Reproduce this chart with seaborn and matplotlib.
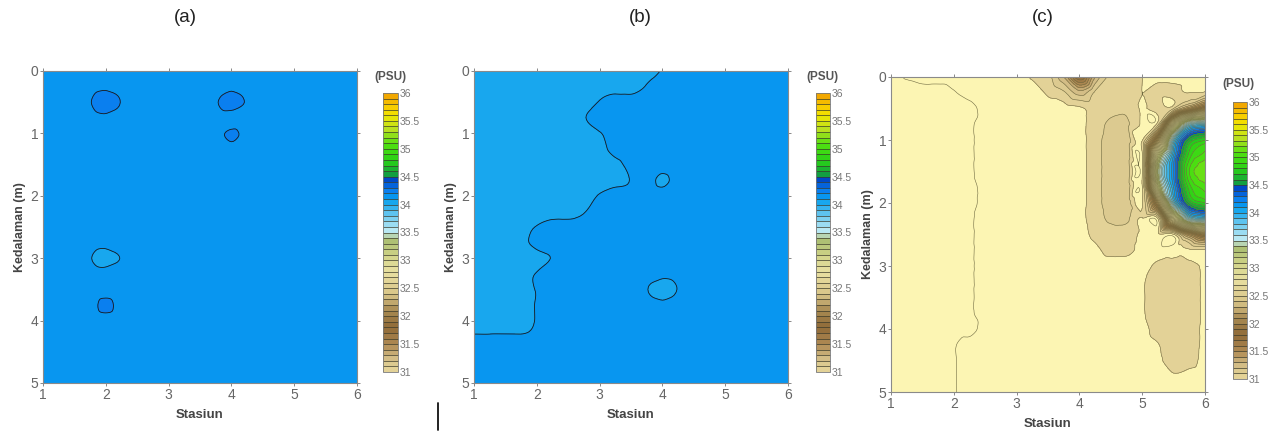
import numpy as np
import matplotlib
matplotlib.use('Agg')
import matplotlib.pyplot as plt
import seaborn as sns
from matplotlib.colors import ListedColormap, BoundaryNorm, LinearSegmentedColormap
from matplotlib.tri import Triangulation, UniformTriRefiner, CubicTriInterpolator
from matplotlib.lines import Line2D

# grid (station x depth), salinity in PSU
stations = [1.0, 1.25, 1.5, 1.75, 2.0, 2.25, 2.5, 2.75, 3.0, 3.25, 3.5,
            3.75, 4.0, 4.25, 4.5, 4.75, 5.0, 5.25, 5.5, 5.75, 6.0]
depths = [0.0, 0.25, 0.5, 0.75, 1.0, 1.25, 1.5, 1.75, 2.0, 2.25, 2.5,
          2.75, 3.0, 3.25, 3.5, 3.75, 4.0, 4.25, 4.5, 4.75, 5.0]

# (a)
sal_a = [
    [34.15, 34.15, 34.15, 34.15, 34.15, 34.15, 34.15, 34.15, 34.15, 34.15, 34.15, 34.15, 34.15, 34.15, 34.15, 34.15, 34.15, 34.15, 34.15, 34.15, 34.15],
    [34.15, 34.15, 34.15, 34.15, 34.16, 34.15, 34.15, 34.15, 34.15, 34.15, 34.15, 34.15, 34.15, 34.15, 34.15, 34.15, 34.15, 34.15, 34.15, 34.15, 34.15],
    [34.15, 34.15, 34.15, 34.19, 34.28, 34.19, 34.15, 34.15, 34.15, 34.15, 34.15, 34.18, 34.26, 34.18, 34.15, 34.15, 34.15, 34.15, 34.15, 34.15, 34.15],
    [34.15, 34.15, 34.15, 34.15, 34.16, 34.15, 34.15, 34.15, 34.15, 34.15, 34.15, 34.15, 34.15, 34.15, 34.15, 34.15, 34.15, 34.15, 34.15, 34.15, 34.15],
    [34.15, 34.15, 34.15, 34.15, 34.15, 34.15, 34.15, 34.15, 34.15, 34.15, 34.15, 34.15, 34.22, 34.15, 34.15, 34.15, 34.15, 34.15, 34.15, 34.15, 34.15],
    [34.15, 34.15, 34.15, 34.15, 34.15, 34.15, 34.15, 34.15, 34.15, 34.15, 34.15, 34.15, 34.15, 34.15, 34.15, 34.15, 34.15, 34.15, 34.15, 34.15, 34.15],
    [34.15, 34.15, 34.15, 34.15, 34.15, 34.15, 34.15, 34.15, 34.15, 34.15, 34.15, 34.15, 34.15, 34.15, 34.15, 34.15, 34.15, 34.15, 34.15, 34.15, 34.15],
    [34.15, 34.15, 34.15, 34.15, 34.15, 34.15, 34.15, 34.15, 34.15, 34.15, 34.15, 34.15, 34.15, 34.15, 34.15, 34.15, 34.15, 34.15, 34.15, 34.15, 34.15],
    [34.15, 34.15, 34.15, 34.15, 34.15, 34.15, 34.15, 34.15, 34.15, 34.15, 34.15, 34.15, 34.15, 34.15, 34.15, 34.15, 34.15, 34.15, 34.15, 34.15, 34.15],
    [34.15, 34.15, 34.15, 34.15, 34.15, 34.15, 34.15, 34.15, 34.15, 34.15, 34.15, 34.15, 34.15, 34.15, 34.15, 34.15, 34.15, 34.15, 34.15, 34.15, 34.15],
    [34.15, 34.15, 34.15, 34.15, 34.15, 34.15, 34.15, 34.15, 34.15, 34.15, 34.15, 34.15, 34.15, 34.15, 34.15, 34.15, 34.15, 34.15, 34.15, 34.15, 34.15],
    [34.15, 34.15, 34.15, 34.15, 34.15, 34.15, 34.15, 34.15, 34.15, 34.15, 34.15, 34.15, 34.15, 34.15, 34.15, 34.15, 34.15, 34.15, 34.15, 34.15, 34.15],
    [34.15, 34.15, 34.15, 34.11, 34.05, 34.11, 34.15, 34.15, 34.15, 34.15, 34.15, 34.15, 34.15, 34.15, 34.15, 34.15, 34.15, 34.15, 34.15, 34.15, 34.15],
    [34.15, 34.15, 34.15, 34.15, 34.15, 34.15, 34.15, 34.15, 34.15, 34.15, 34.15, 34.15, 34.15, 34.15, 34.15, 34.15, 34.15, 34.15, 34.15, 34.15, 34.15],
    [34.15, 34.15, 34.15, 34.15, 34.15, 34.15, 34.15, 34.15, 34.15, 34.15, 34.15, 34.15, 34.15, 34.15, 34.15, 34.15, 34.15, 34.15, 34.15, 34.15, 34.15],
    [34.15, 34.15, 34.15, 34.15, 34.23, 34.15, 34.15, 34.15, 34.15, 34.15, 34.15, 34.15, 34.15, 34.15, 34.15, 34.15, 34.15, 34.15, 34.15, 34.15, 34.15],
    [34.15, 34.15, 34.15, 34.15, 34.15, 34.15, 34.15, 34.15, 34.15, 34.15, 34.15, 34.15, 34.15, 34.15, 34.15, 34.15, 34.15, 34.15, 34.15, 34.15, 34.15],
    [34.15, 34.15, 34.15, 34.15, 34.15, 34.15, 34.15, 34.15, 34.15, 34.15, 34.15, 34.15, 34.15, 34.15, 34.15, 34.15, 34.15, 34.15, 34.15, 34.15, 34.15],
    [34.15, 34.15, 34.15, 34.15, 34.15, 34.15, 34.15, 34.15, 34.15, 34.15, 34.15, 34.15, 34.15, 34.15, 34.15, 34.15, 34.15, 34.15, 34.15, 34.15, 34.15],
    [34.15, 34.15, 34.15, 34.15, 34.15, 34.15, 34.15, 34.15, 34.15, 34.15, 34.15, 34.15, 34.15, 34.15, 34.15, 34.15, 34.15, 34.15, 34.15, 34.15, 34.15],
    [34.15, 34.15, 34.15, 34.15, 34.15, 34.15, 34.15, 34.15, 34.15, 34.15, 34.15, 34.15, 34.15, 34.15, 34.15, 34.15, 34.15, 34.15, 34.15, 34.15, 34.15],
]

# (b)
sal_b = [
    [34.05, 34.05, 34.05, 34.05, 34.05, 34.05, 34.05, 34.05, 34.05, 34.05, 34.05, 34.05, 34.11, 34.15, 34.15, 34.15, 34.15, 34.15, 34.15, 34.15, 34.15],
    [34.05, 34.05, 34.05, 34.05, 34.05, 34.05, 34.05, 34.05, 34.05, 34.05, 34.05, 34.11, 34.15, 34.15, 34.15, 34.15, 34.15, 34.15, 34.15, 34.15, 34.15],
    [34.05, 34.05, 34.05, 34.05, 34.05, 34.05, 34.05, 34.05, 34.11, 34.15, 34.15, 34.15, 34.15, 34.15, 34.15, 34.15, 34.15, 34.15, 34.15, 34.15, 34.15],
    [34.05, 34.05, 34.05, 34.05, 34.05, 34.05, 34.05, 34.09, 34.15, 34.15, 34.15, 34.15, 34.15, 34.15, 34.15, 34.15, 34.15, 34.15, 34.15, 34.15, 34.15],
    [34.05, 34.05, 34.05, 34.05, 34.05, 34.05, 34.05, 34.05, 34.09, 34.15, 34.15, 34.15, 34.15, 34.15, 34.15, 34.15, 34.15, 34.15, 34.15, 34.15, 34.15],
    [34.05, 34.05, 34.05, 34.05, 34.05, 34.05, 34.05, 34.05, 34.05, 34.15, 34.15, 34.15, 34.15, 34.15, 34.15, 34.15, 34.15, 34.15, 34.15, 34.15, 34.15],
    [34.05, 34.05, 34.05, 34.05, 34.05, 34.05, 34.05, 34.05, 34.05, 34.05, 34.15, 34.15, 34.15, 34.15, 34.15, 34.15, 34.15, 34.15, 34.15, 34.15, 34.15],
    [34.05, 34.05, 34.05, 34.05, 34.05, 34.05, 34.05, 34.05, 34.05, 34.05, 34.11, 34.15, 34.08, 34.15, 34.15, 34.15, 34.15, 34.15, 34.15, 34.15, 34.15],
    [34.05, 34.05, 34.05, 34.05, 34.05, 34.05, 34.05, 34.05, 34.11, 34.15, 34.15, 34.15, 34.15, 34.15, 34.15, 34.15, 34.15, 34.15, 34.15, 34.15, 34.15],
    [34.05, 34.05, 34.05, 34.05, 34.05, 34.05, 34.05, 34.09, 34.15, 34.15, 34.15, 34.15, 34.15, 34.15, 34.15, 34.15, 34.15, 34.15, 34.15, 34.15, 34.15],
    [34.05, 34.05, 34.05, 34.05, 34.11, 34.15, 34.15, 34.15, 34.15, 34.15, 34.15, 34.15, 34.15, 34.15, 34.15, 34.15, 34.15, 34.15, 34.15, 34.15, 34.15],
    [34.05, 34.05, 34.05, 34.05, 34.15, 34.15, 34.15, 34.15, 34.15, 34.15, 34.15, 34.15, 34.15, 34.15, 34.15, 34.15, 34.15, 34.15, 34.15, 34.15, 34.15],
    [34.05, 34.05, 34.05, 34.05, 34.05, 34.11, 34.15, 34.15, 34.15, 34.15, 34.15, 34.15, 34.15, 34.15, 34.15, 34.15, 34.15, 34.15, 34.15, 34.15, 34.15],
    [34.05, 34.05, 34.05, 34.05, 34.11, 34.15, 34.15, 34.15, 34.15, 34.15, 34.15, 34.15, 34.15, 34.15, 34.15, 34.15, 34.15, 34.15, 34.15, 34.15, 34.15],
    [34.05, 34.05, 34.05, 34.05, 34.11, 34.15, 34.15, 34.15, 34.15, 34.15, 34.15, 34.11, 34.025, 34.11, 34.15, 34.15, 34.15, 34.15, 34.15, 34.15, 34.15],
    [34.05, 34.05, 34.05, 34.05, 34.11, 34.15, 34.15, 34.15, 34.15, 34.15, 34.15, 34.15, 34.15, 34.15, 34.15, 34.15, 34.15, 34.15, 34.15, 34.15, 34.15],
    [34.05, 34.05, 34.05, 34.05, 34.11, 34.15, 34.15, 34.15, 34.15, 34.15, 34.15, 34.15, 34.15, 34.15, 34.15, 34.15, 34.15, 34.15, 34.15, 34.15, 34.15],
    [34.11, 34.11, 34.11, 34.11, 34.12, 34.15, 34.15, 34.15, 34.15, 34.15, 34.15, 34.15, 34.15, 34.15, 34.15, 34.15, 34.15, 34.15, 34.15, 34.15, 34.15],
    [34.15, 34.15, 34.15, 34.15, 34.13, 34.15, 34.15, 34.15, 34.15, 34.15, 34.15, 34.15, 34.15, 34.15, 34.15, 34.15, 34.15, 34.15, 34.15, 34.15, 34.15],
    [34.15, 34.15, 34.15, 34.15, 34.13, 34.15, 34.15, 34.15, 34.15, 34.15, 34.15, 34.15, 34.15, 34.15, 34.15, 34.15, 34.15, 34.15, 34.15, 34.15, 34.15],
    [34.15, 34.15, 34.15, 34.15, 34.15, 34.15, 34.15, 34.15, 34.15, 34.15, 34.15, 34.15, 34.15, 34.15, 34.15, 34.15, 34.15, 34.15, 34.15, 34.15, 34.15],
]

# (c)
sal_c = [
    [30.85, 30.91, 30.95, 30.95, 30.95, 30.95, 30.95, 30.95, 30.95, 31.01, 31.06, 31.30, 31.80, 31.30, 31.07, 31.04, 31.00, 30.97, 30.96, 30.95, 30.97],
    [30.85, 30.85, 30.85, 30.85, 30.89, 30.95, 30.95, 30.95, 30.95, 30.95, 31.02, 31.08, 31.25, 31.08, 31.05, 31.05, 31.00, 31.05, 31.05, 31.00, 31.02],
    [30.85, 30.85, 30.85, 30.85, 30.85, 30.85, 30.95, 30.95, 30.95, 30.95, 30.95, 30.96, 30.98, 31.04, 31.07, 31.08, 30.99, 31.06, 31.10, 31.50, 31.90],
    [30.85, 30.85, 30.85, 30.85, 30.85, 30.88, 30.95, 30.95, 30.95, 30.95, 30.95, 30.95, 30.97, 31.05, 31.12, 31.12, 30.99, 31.06, 32.60, 33.70, 33.90],
    [30.85, 30.85, 30.85, 30.85, 30.85, 30.88, 30.95, 30.95, 30.95, 30.95, 30.95, 30.95, 30.97, 31.05, 31.16, 31.16, 30.99, 32.00, 33.80, 34.60, 34.80],
    [30.85, 30.85, 30.85, 30.85, 30.85, 30.88, 30.95, 30.95, 30.95, 30.95, 30.95, 30.95, 30.97, 31.05, 31.16, 31.16, 30.99, 33.00, 34.10, 34.85, 35.05],
    [30.85, 30.85, 30.85, 30.85, 30.85, 30.88, 30.95, 30.95, 30.95, 30.95, 30.95, 30.95, 30.97, 31.05, 31.16, 31.16, 30.99, 33.30, 34.20, 35.00, 35.20],
    [30.85, 30.85, 30.85, 30.85, 30.85, 30.85, 30.95, 30.95, 30.95, 30.95, 30.95, 30.95, 30.97, 31.05, 31.16, 31.16, 30.99, 33.00, 34.10, 34.85, 35.05],
    [30.85, 30.85, 30.85, 30.85, 30.85, 30.85, 30.95, 30.95, 30.95, 30.95, 30.95, 30.95, 30.97, 31.05, 31.16, 31.16, 30.99, 32.00, 33.80, 34.60, 34.80],
    [30.85, 30.85, 30.85, 30.85, 30.85, 30.88, 30.95, 30.95, 30.95, 30.95, 30.95, 30.95, 30.97, 31.05, 31.12, 31.12, 30.99, 30.99, 32.60, 33.70, 33.90],
    [30.85, 30.85, 30.85, 30.85, 30.85, 30.88, 30.95, 30.95, 30.95, 30.95, 30.95, 30.95, 30.97, 31.02, 31.05, 31.05, 30.98, 30.97, 30.98, 31.50, 31.90],
    [30.85, 30.85, 30.85, 30.85, 30.85, 30.88, 30.95, 30.95, 30.95, 30.95, 30.95, 30.95, 30.96, 30.98, 31.03, 31.03, 30.97, 30.96, 30.97, 30.98, 30.97],
    [30.85, 30.85, 30.85, 30.85, 30.85, 30.88, 30.95, 30.95, 30.95, 30.95, 30.95, 30.95, 30.95, 30.95, 30.95, 30.95, 30.97, 31.02, 31.05, 31.05, 30.97],
    [30.85, 30.85, 30.85, 30.85, 30.85, 30.88, 30.95, 30.95, 30.95, 30.95, 30.95, 30.95, 30.95, 30.95, 30.95, 30.95, 30.99, 31.05, 31.06, 31.06, 30.97],
    [30.85, 30.85, 30.85, 30.85, 30.85, 30.88, 30.95, 30.95, 30.95, 30.95, 30.95, 30.95, 30.95, 30.95, 30.95, 30.95, 30.99, 31.05, 31.06, 31.06, 30.97],
    [30.85, 30.85, 30.85, 30.85, 30.85, 30.88, 30.95, 30.95, 30.95, 30.95, 30.95, 30.95, 30.95, 30.95, 30.95, 30.95, 30.99, 31.05, 31.06, 31.06, 30.97],
    [30.85, 30.85, 30.85, 30.85, 30.85, 30.85, 30.95, 30.95, 30.95, 30.95, 30.95, 30.95, 30.95, 30.95, 30.95, 30.95, 30.97, 31.04, 31.06, 31.05, 30.97],
    [30.85, 30.85, 30.85, 30.85, 30.89, 30.95, 30.95, 30.95, 30.95, 30.95, 30.95, 30.95, 30.95, 30.95, 30.95, 30.95, 30.96, 30.995, 31.06, 31.05, 30.97],
    [30.85, 30.85, 30.85, 30.85, 30.89, 30.95, 30.95, 30.95, 30.95, 30.95, 30.95, 30.95, 30.95, 30.95, 30.95, 30.95, 30.96, 30.98, 31.05, 31.03, 30.97],
    [30.85, 30.85, 30.85, 30.85, 30.89, 30.95, 30.95, 30.95, 30.95, 30.95, 30.95, 30.95, 30.95, 30.95, 30.95, 30.95, 30.95, 30.96, 30.99, 30.97, 30.96],
    [30.85, 30.85, 30.85, 30.85, 30.89, 30.95, 30.95, 30.95, 30.95, 30.95, 30.95, 30.95, 30.95, 30.95, 30.95, 30.95, 30.95, 30.95, 30.95, 30.95, 30.95],
]

panel_titles = ['(a)', '(b)', '(c)']
cbar_ticks = [31, 31.5, 32, 32.5, 33, 33.5, 34, 34.5, 35, 35.5, 36]
cbar_labels = ['31', '31.5', '32', '32.5', '33', '33.5', '34', '34.5', '35', '35.5', '36']

# colour scale (Surfer-like), anchors along 31..36
anchors = [(31.0, '#e6d69a'), (31.2, '#d8c48c'), (31.5, '#b08c55'), (31.8, '#8f6a38'),
           (32.1, '#a88a52'), (32.4, '#d8c488'), (32.8, '#e8e0a2'), (33.1, '#d0d488'),
           (33.4, '#a8bc70'), (33.5, '#c8eef4'), (33.75, '#7ccff0'), (34.05, '#1aa8ee'),
           (34.15, '#0898f0'), (34.25, '#0a80f0'), (34.45, '#0048c8'), (34.55, '#12a040'),
           (34.8, '#28d018'), (35.1, '#50e010'), (35.35, '#b8e020'), (35.6, '#f0e800'),
           (35.8, '#f8c800'), (36.0, '#f0a000')]
psu_map = LinearSegmentedColormap.from_list('psu', [((v - 31) / 5, c) for v, c in anchors])
bar_levels = np.round(np.linspace(31, 36, 51), 2)
band_colors = [psu_map((m - 31) / 5) for m in bar_levels[:-1] + 0.05]
pale = '#fcf5b3'
fill_levels = [29.0, 30.9] + list(bar_levels)
fill_colors = [pale, pale] + band_colors
line_levels = [30.9] + list(bar_levels[:-1])

sns.set_theme(style='white')
plt.rcParams['font.family'] = ['Liberation Sans', 'DejaVu Sans']

fig = plt.figure(figsize=(12.8, 4.37), dpi=100)
W, H = 1280, 437


def rect(x0, y0, x1, y1):
    return [x0 / W, 1 - y1 / H, (x1 - x0) / W, (y1 - y0) / H]


X, Y = np.meshgrid(stations, depths)
tri = Triangulation(X.ravel(), Y.ravel())
refiner = UniformTriRefiner(tri)

panels = [
    dict(sal=sal_a, ax=rect(43, 71, 357, 383), cb=rect(383, 93, 398, 372), lc='#1a1a1a',
         lw=0.6, kind='min_E', title_x=185, psu=(390, 77)),
    dict(sal=sal_b, ax=rect(474, 71, 788, 383), cb=rect(816, 93, 830, 372), lc='#1a1a1a',
         lw=0.6, kind='min_E', title_x=640, psu=(822, 77)),
    dict(sal=sal_c, ax=rect(891, 77, 1205, 392), cb=rect(1233, 102, 1247, 379), lc='#6e6940',
         lw=0.4, kind='geom', title_x=1043, psu=(1238, 84)),
]

cmap_bar = ListedColormap(band_colors)
norm_bar = BoundaryNorm(bar_levels, cmap_bar.N)

for p, title in zip(panels, panel_titles):
    ax = fig.add_axes(p['ax'])
    z = np.asarray(p['sal'], dtype=float).ravel()
    interp = CubicTriInterpolator(tri, z, kind=p['kind'])
    tri_f, z_f = refiner.refine_field(z, triinterpolator=interp, subdiv=3)
    ax.tricontourf(tri_f, z_f, levels=fill_levels, colors=fill_colors)
    ax.tricontour(tri_f, z_f, levels=line_levels, colors=p['lc'], linewidths=p['lw'])
    ax.set_xlim(1, 6)
    ax.set_ylim(5, 0)
    ax.set_xticks([1, 2, 3, 4, 5, 6])
    ax.set_yticks([0, 1, 2, 3, 4, 5])
    ax.tick_params(direction='inout', length=5, width=0.7, color='#888888',
                   labelsize=10, labelcolor='#666666', top=True, right=True,
                   bottom=True, left=True, labeltop=False, labelright=False, pad=1)
    for s in ax.spines.values():
        s.set_color('#8a8a8a')
        s.set_linewidth(0.8)
    ax.set_xlabel('Stasiun', fontsize=9.5, fontweight='bold', color='#444444', labelpad=5)
    ax.set_ylabel('Kedalaman (m)', fontsize=9, fontweight='bold', color='#444444', labelpad=3)

    fig.text(p['title_x'] / W, 1 - 18 / H, title, ha='center', va='center',
             fontsize=13.5, color='#222222')

    cax = fig.add_axes(p['cb'])
    sm = plt.cm.ScalarMappable(norm=norm_bar, cmap=cmap_bar)
    cb = fig.colorbar(sm, cax=cax, drawedges=True, ticks=cbar_ticks)
    cb.ax.set_yticklabels(cbar_labels)
    cb.ax.minorticks_off()
    cb.dividers.set_color('#3a3a2a')
    cb.dividers.set_linewidth(0.5)
    cb.outline.set_edgecolor('#777777')
    cb.outline.set_linewidth(0.6)
    cb.ax.tick_params(which='both', length=0, labelsize=7.5, labelcolor='#777777', pad=1)
    fig.text(p['psu'][0] / W, 1 - p['psu'][1] / H, '(PSU)', ha='center', va='center',
             fontsize=8.5, fontweight='bold', color='#555555')

# stray mark between panels (a) and (b)
fig.add_artist(Line2D([438 / W, 438 / W], [1 - 403 / H, 1 - 430 / H], color='#111111', lw=1.3))

fig.savefig('out.png', dpi=100)
